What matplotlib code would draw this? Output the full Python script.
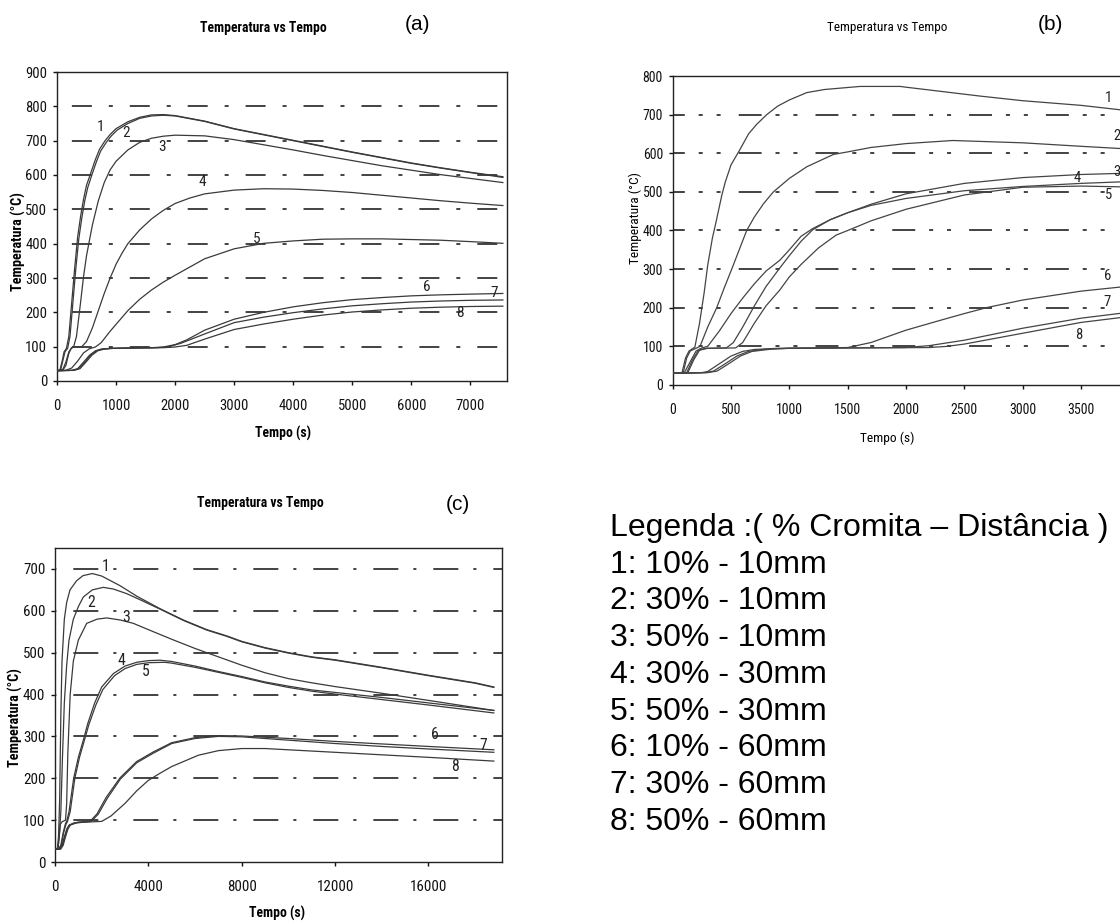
import matplotlib
matplotlib.use("Agg")
import matplotlib.pyplot as plt
from matplotlib import font_manager

# ---------------- dados (a) ----------------
a1 = [(0, 30), (50, 32), (90, 60), (120, 85), (160, 95), (200, 130), (250, 230), (300, 330), (350, 420),
      (400, 480), (450, 530), (500, 570), (570, 605), (650, 645), (720, 675), (814, 700), (900, 718),
      (1000, 735), (1200, 755), (1400, 768), (1600, 775), (1800, 776), (2000, 773), (2500, 757),
      (3000, 735), (3500, 718), (4000, 701), (4500, 684), (5000, 667), (5500, 651), (6000, 635),
      (6500, 621), (7000, 608), (7550, 595)]
a2 = [(0, 30), (60, 31), (100, 60), (135, 85), (180, 95), (220, 130), (270, 230), (320, 330), (370, 415),
      (420, 475), (470, 525), (520, 563), (590, 600), (670, 640), (740, 670), (834, 695), (920, 714),
      (1020, 731), (1200, 750), (1400, 765), (1600, 772), (1800, 774), (2000, 772), (2500, 756),
      (3000, 734), (3500, 717), (4000, 700), (4500, 683), (5000, 666), (5500, 650), (6000, 634),
      (6500, 620), (7000, 607), (7550, 593)]
a3 = [(0, 30), (100, 32), (150, 45), (200, 80), (240, 95), (280, 99), (330, 130), (400, 230), (450, 305),
      (500, 365), (600, 455), (700, 525), (800, 578), (900, 615), (1000, 640), (1200, 673), (1400, 695),
      (1600, 707), (1800, 713), (2000, 716), (2500, 714), (3000, 703), (3500, 688), (4000, 673),
      (4500, 657), (5000, 642), (5500, 627), (6000, 614), (6500, 601), (7000, 590), (7550, 578)]
a4 = [(0, 30), (100, 34), (150, 55), (200, 85), (250, 97), (300, 99), (420, 100), (500, 115), (600, 155),
      (700, 205), (800, 255), (900, 300), (1000, 340), (1100, 372), (1200, 400), (1400, 440), (1600, 472),
      (1800, 497), (2000, 517), (2250, 533), (2500, 545), (3000, 556), (3500, 560), (4000, 559),
      (4500, 555), (5000, 549), (5500, 541), (6000, 533), (6500, 525), (7000, 518), (7550, 511)]
a5 = [(0, 30), (150, 31), (250, 38), (350, 58), (450, 82), (550, 94), (650, 99), (750, 112), (900, 145),
      (1000, 165), (1200, 205), (1400, 238), (1600, 265), (1800, 288), (2000, 308), (2500, 356),
      (3000, 385), (3500, 401), (4000, 408), (4500, 413), (5000, 414), (5500, 414), (6000, 412),
      (6500, 410), (7000, 406), (7550, 401)]
a6 = [(0, 30), (250, 31), (350, 36), (450, 55), (550, 75), (650, 88), (750, 93), (900, 95), (1200, 96),
      (1600, 97), (1800, 99), (2000, 106), (2200, 120), (2500, 148), (3000, 180), (3500, 200), (4000, 216),
      (4500, 228), (5000, 237), (5500, 243), (6000, 248), (6500, 251), (7000, 253), (7550, 255)]
a7 = [(0, 30), (270, 31), (370, 36), (470, 55), (570, 75), (670, 88), (770, 93), (920, 95), (1200, 96),
      (1700, 97), (1900, 100), (2100, 110), (2500, 137), (3000, 170), (3500, 186), (4000, 199), (4500, 210),
      (5000, 219), (5500, 225), (6000, 230), (6500, 233), (7000, 235), (7550, 236)]
a8 = [(0, 30), (290, 31), (390, 36), (490, 55), (590, 75), (690, 88), (800, 93), (950, 95), (1200, 96),
      (1800, 97), (2000, 99), (2200, 104), (2500, 122), (3000, 150), (3500, 166), (4000, 180), (4500, 192),
      (5000, 201), (5500, 207), (6000, 212), (6500, 215), (7000, 217), (7550, 218)]
rotulos_a = [(729, 740), (1169, 722), (1785, 682), (2463, 580), (3384, 415), (6254, 274), (7407, 255), (6819, 199)]

# ---------------- dados (b) ----------------
b1 = [(0, 30), (80, 32), (110, 70), (140, 88), (190, 98), (230, 160), (270, 240), (300, 310), (340, 380),
      (370, 420), (420, 490), (450, 525), (500, 570), (577, 610), (650, 650), (720, 675), (806, 700),
      (900, 722), (1000, 738), (1149, 757), (1300, 765), (1606, 773), (1950, 773), (2000, 771),
      (2635, 748), (3000, 736), (3500, 724), (3850, 712)]
b2 = [(0, 30), (90, 32), (120, 70), (150, 88), (220, 98), (234, 100), (300, 150), (377, 200), (440, 250),
      (506, 300), (570, 350), (634, 400), (700, 435), (780, 470), (863, 500), (1000, 535), (1149, 565),
      (1378, 597), (1491, 603), (1700, 615), (2000, 625), (2400, 633), (3000, 627), (3500, 618), (3850, 612)]
b3 = [(0, 30), (100, 32), (150, 60), (200, 88), (250, 96), (300, 100), (400, 140), (500, 185), (600, 225),
      (700, 262), (800, 295), (918, 323), (1000, 350), (1100, 385), (1200, 405), (1350, 428), (1500, 446),
      (1700, 468), (2000, 495), (2500, 522), (3000, 537), (3500, 545), (3850, 548)]
b4 = [(0, 30), (120, 32), (170, 65), (220, 90), (280, 95), (460, 96), (520, 110), (600, 150), (700, 205),
      (800, 255), (918, 303), (1000, 335), (1100, 372), (1200, 402), (1350, 428), (1500, 446), (1700, 465),
      (2000, 483), (2500, 503), (3000, 514), (3500, 522), (3850, 526)]
b5 = [(0, 30), (130, 32), (180, 65), (230, 90), (300, 95), (540, 96), (600, 110), (700, 160), (800, 205),
      (918, 246), (1000, 280), (1100, 312), (1250, 355), (1400, 388), (1500, 400), (1700, 425), (2000, 455),
      (2500, 492), (3000, 512), (3500, 515), (3850, 513)]
b6 = [(0, 30), (250, 32), (300, 35), (400, 55), (500, 75), (600, 87), (700, 92), (900, 95), (1500, 97),
      (1700, 110), (2000, 142), (2300, 168), (2500, 185), (2700, 201), (3000, 220), (3500, 243), (3850, 254)]
b7 = [(0, 30), (280, 32), (350, 36), (450, 55), (550, 75), (650, 87), (800, 93), (1000, 95), (2000, 97),
      (2200, 102), (2500, 116), (3000, 147), (3500, 173), (3850, 186)]
b8 = [(0, 30), (300, 32), (380, 36), (480, 55), (580, 75), (680, 87), (850, 93), (1000, 95), (2200, 97),
      (2350, 100), (2500, 106), (3000, 134), (3500, 162), (3850, 175)]
rotulos_b = [(3734, 742), (3806, 644), (3806, 552), (3468, 535), (3734, 492), (3725, 282), (3725, 216), (3483, 129)]

# ---------------- dados (c) ----------------
c1 = [(0, 30), (100, 32), (150, 60), (200, 150), (250, 350), (300, 480), (400, 580), (500, 620), (643, 650),
      (929, 672), (1200, 684), (1600, 689), (2000, 683), (2786, 660), (3500, 635), (4500, 605), (5500, 578),
      (6500, 555), (7360, 540), (8000, 527), (9000, 512), (10000, 500), (11000, 490), (12000, 483),
      (14000, 465), (16000, 446), (18000, 428), (18800, 418)]
c2 = [(0, 30), (120, 32), (180, 60), (250, 120), (320, 250), (400, 380), (500, 470), (600, 530), (786, 580),
      (1000, 610), (1214, 633), (1600, 650), (2071, 656), (2500, 652), (3071, 641), (3700, 625), (4500, 604),
      (5500, 577), (6500, 554), (7360, 539), (8000, 526), (9000, 511), (10000, 499), (11000, 489),
      (12000, 482), (14000, 464), (16000, 445), (18000, 427), (18800, 417)]
c3 = [(0, 30), (130, 32), (180, 60), (230, 90), (300, 96), (450, 100), (500, 140), (550, 260), (650, 400),
      (786, 480), (1000, 530), (1357, 570), (1800, 580), (2214, 583), (2800, 578), (3357, 570), (4000, 555),
      (5000, 532), (6000, 510), (6500, 500), (7000, 490), (8000, 470), (9000, 452), (10000, 438),
      (11000, 428), (12000, 419), (14000, 403), (16000, 386), (18800, 362)]
c4 = [(0, 30), (150, 31), (250, 40), (350, 70), (450, 92), (500, 97), (600, 120), (700, 160), (800, 200),
      (1000, 250), (1214, 291), (1400, 330), (1700, 380), (2000, 418), (2500, 450), (3000, 468), (3500, 477),
      (4000, 481), (4500, 482), (5000, 479), (6000, 468), (7000, 455), (8000, 443), (9000, 430),
      (10000, 420), (11000, 411), (12000, 405), (14000, 393), (16000, 380), (18800, 362)]
c5 = [(0, 30), (170, 31), (270, 40), (370, 70), (470, 90), (530, 96), (650, 120), (750, 160), (850, 200),
      (1050, 250), (1260, 291), (1450, 328), (1750, 375), (2050, 412), (2550, 445), (3000, 462), (3500, 472),
      (4000, 476), (4700, 477), (5000, 475), (6000, 465), (7000, 453), (8000, 441), (9000, 428),
      (10000, 417), (11000, 408), (12000, 401), (14000, 388), (16000, 375), (18800, 356)]
c6 = [(0, 30), (200, 31), (300, 40), (400, 60), (500, 78), (600, 88), (800, 93), (1000, 95), (1500, 97),
      (1800, 115), (2200, 155), (2786, 201), (3500, 240), (4214, 263), (5000, 285), (6000, 297), (7000, 302),
      (8000, 301), (10000, 295), (12000, 288), (14000, 282), (16000, 276), (18800, 268)]
c7 = [(0, 30), (220, 31), (320, 40), (420, 60), (520, 78), (620, 88), (820, 93), (1000, 95), (1550, 97),
      (1850, 114), (2250, 153), (2800, 198), (3500, 237), (4214, 260), (5000, 283), (6000, 295), (7000, 300),
      (8000, 299), (10000, 291), (12000, 283), (14000, 276), (16000, 270), (18800, 262)]
c8 = [(0, 30), (250, 31), (350, 40), (450, 60), (550, 78), (650, 88), (900, 93), (1200, 95), (2000, 97),
      (2400, 110), (3000, 140), (3500, 170), (4000, 195), (4500, 212), (5000, 228), (6143, 255), (7000, 266),
      (8000, 271), (9000, 271), (10000, 268), (12000, 262), (14000, 256), (16000, 250), (18800, 241)]
rotulos_c = [(2187, 706), (1530, 621), (3044, 585), (2859, 482), (3901, 454), (16290, 305), (18360, 279), (17150, 227)]

legenda = ["Legenda :( % Cromita \u2013 Dist\u00e2ncia )", "1: 10% - 10mm", "2: 30% - 10mm", "3: 50% - 10mm",
           "4: 30% - 30mm", "5: 50% - 30mm", "6: 10% - 60mm", "7: 30% - 60mm", "8: 50% - 60mm"]

# fontes: estreita para os graficos (tipo Arial Narrow), normal para a legenda
nomes = {f.name for f in font_manager.fontManager.ttflist}
ESTREITA = [n for n in ['Liberation Sans Narrow', 'Roboto Condensed', 'Open Sans Condensed',
                        'Liberation Sans', 'DejaVu Sans'] if n in nomes]
NORMAL = [n for n in ['Liberation Sans', 'DejaVu Sans'] if n in nomes]
plt.rcParams['font.family'] = ESTREITA
plt.rcParams['lines.scale_dashes'] = False

W, H = 1120, 921
fig = plt.figure(figsize=(W / 100, H / 100), dpi=100)


def px(x, y):
    return x / W, 1 - y / H


def painel(ret, xlim, ylim, xticks, yticks, curvas, rotulos, tracejado, tam=10.5, cor_lin='#3a3a3a'):
    l, t, r, b = ret
    ax = fig.add_axes([l / W, 1 - b / H, (r - l) / W, (b - t) / H])
    ax.set_xlim(*xlim)
    ax.set_ylim(*ylim)
    ax.set_xticks(xticks)
    ax.set_yticks(yticks)
    ax.tick_params(direction='out', length=3, width=1, labelsize=tam, colors='#111111')
    ax.tick_params(axis='x', pad=10)
    ax.tick_params(axis='y', pad=4)
    for y in yticks[1:]:
        if y < ylim[1]:
            ax.axhline(y, color='#222222', lw=1.2, linestyle=tracejado, zorder=1)
    for c in curvas:
        ts = [p[0] for p in c]
        vs = [p[1] for p in c]
        ax.plot(ts, vs, color=cor_lin, lw=0.9, zorder=3)
    for i, (x, y) in enumerate(rotulos):
        ax.text(x, y, str(i + 1), fontsize=tam + 0.5, ha='center', va='center', color='#222222', zorder=4)
    for s in ax.spines.values():
        s.set_linewidth(1.0)
        s.set_color('#222222')
    return ax


ax_a = painel((57, 72, 507, 381), (0, 7620), (0, 900), range(0, 7001, 1000), list(range(0, 901, 100)),
              [a1, a2, a3, a4, a5, a6, a7, a8], rotulos_a, (31, (14.4, 12.2, 2.9, 12.2)))
ax_b = painel((672.7, 76, 1139.4, 385), (0, 4000), (0, 800), range(0, 3501, 500), list(range(0, 801, 100)),
              [b1, b2, b3, b4, b5, b6, b7, b8], rotulos_b, (8, (16.5, 10, 2.9, 10, 2.9, 13)), tam=10,
              cor_lin='#444444')
ax_c = painel((55, 548, 502, 862), (0, 19150), (0, 750), range(0, 16001, 4000), list(range(0, 701, 100)),
              [c1, c2, c3, c4, c5, c6, c7, c8], rotulos_c, (30, (18, 10.8, 2.2, 12.2)), tam=10.8)

# titulos e rotulos dos eixos
fig.text(*px(263, 28), 'Temperatura vs Tempo', fontsize=9.8, fontweight='bold', ha='center', va='center')
fig.text(*px(887, 27), 'Temperatura vs Tempo', fontsize=9.5, ha='center', va='center')
fig.text(*px(260, 503), 'Temperatura vs Tempo', fontsize=9.8, fontweight='bold', ha='center', va='center')
fig.text(*px(418, 25), '(a)', fontsize=15, family=NORMAL, ha='center', va='center')
fig.text(*px(1050, 25), '(b)', fontsize=15, family=NORMAL, ha='center', va='center')
fig.text(*px(458, 505), '(c)', fontsize=15, family=NORMAL, ha='center', va='center')

fig.text(*px(18, 242), 'Temperatura (\u00b0C)', fontsize=10.2, fontweight='bold', rotation=90, ha='center', va='center')
fig.text(*px(635, 218), 'Temperatura (\u00b0C)', fontsize=9.6, rotation=90, ha='center', va='center')
fig.text(*px(15, 718), 'Temperatura (\u00b0C)', fontsize=10.2, fontweight='bold', rotation=90, ha='center', va='center')
fig.text(*px(283, 433), 'Tempo (s)', fontsize=9.8, fontweight='bold', ha='center', va='center')
fig.text(*px(887, 438), 'Tempo (s)', fontsize=9.6, ha='center', va='center')
fig.text(*px(277, 913), 'Tempo (s)', fontsize=9.8, fontweight='bold', ha='center', va='center')

# legenda
for i, linha in enumerate(legenda):
    fig.text(*px(610, 528 + 36.7 * i), linha, fontsize=23, family=NORMAL, ha='left', va='center')

fig.savefig('out.png', dpi=100, facecolor='white')
